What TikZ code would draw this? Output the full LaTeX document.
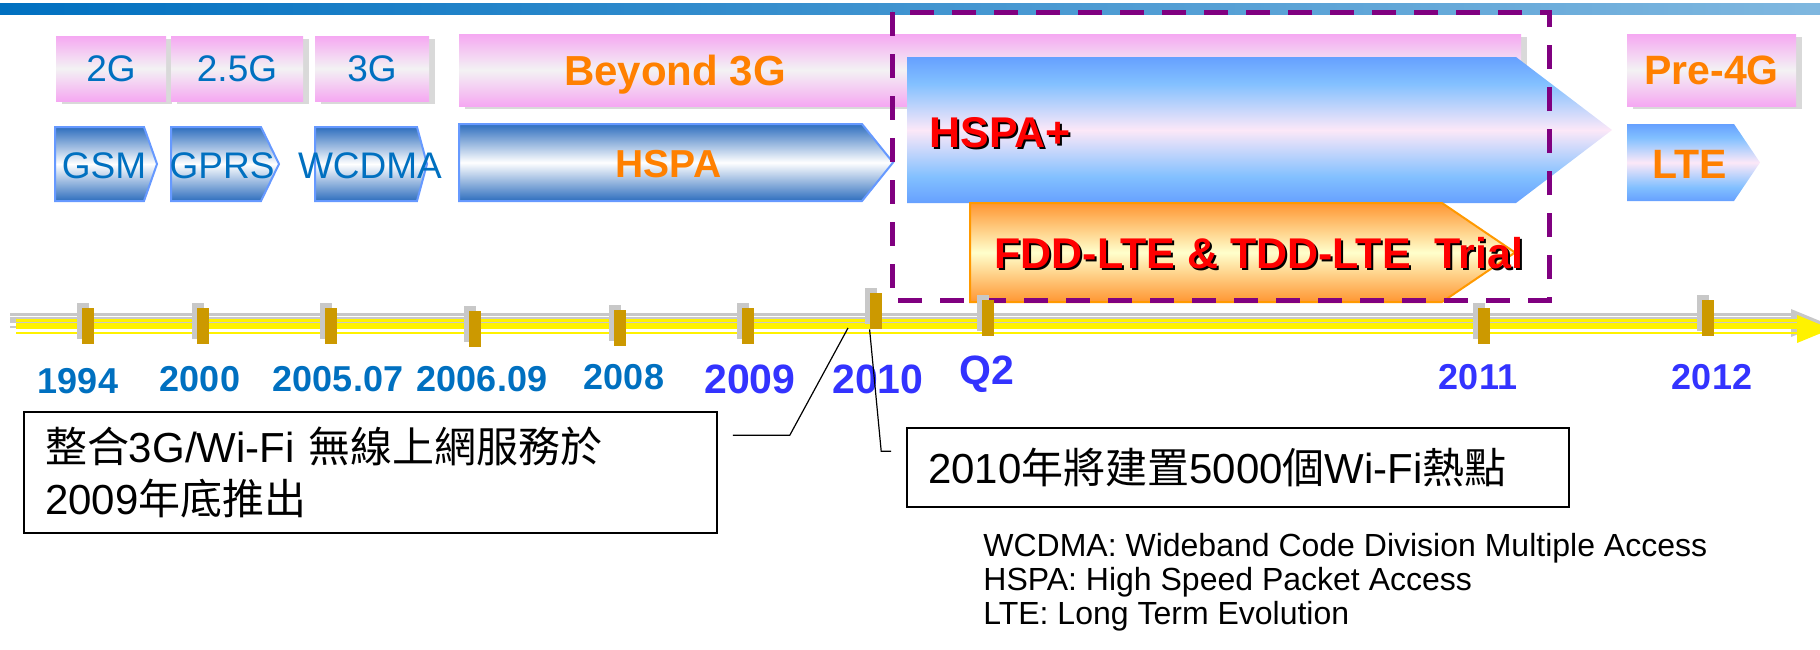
\documentclass[tikz,border=0pt]{standalone}
\usepackage{fontspec}
\setmainfont{Liberation Sans}
\newfontfamily\cjk{Noto Sans CJK TC}
\usetikzlibrary{shadows}

\definecolor{barblue}{RGB}{0,112,192}
\definecolor{genpink}{RGB}{245,168,242}
\definecolor{genmid}{RGB}{243,242,243}
\definecolor{chevdark}{RGB}{46,110,190}
\definecolor{chevedge}{RGB}{102,153,255}
\definecolor{plusblue}{RGB}{102,160,255}
\definecolor{pluslight}{RGB}{130,192,255}
\definecolor{pluspink}{RGB}{252,232,248}
\definecolor{trialorange}{RGB}{255,150,50}
\definecolor{trialcream}{RGB}{255,255,204}
\definecolor{trialedge}{RGB}{255,153,0}
\definecolor{lbltext}{RGB}{0,112,192}
\definecolor{hiorange}{RGB}{255,128,0}
\definecolor{yearnew}{RGB}{51,51,255}
\definecolor{tickgold}{RGB}{204,153,0}
\definecolor{tickgray}{RGB}{200,200,200}
\definecolor{framepurple}{RGB}{128,0,128}

\pgfdeclareverticalshading{plusshade}{100bp}{color(0bp)=(plusblue); color(25bp)=(plusblue);
  color(34bp)=(pluslight); color(50bp)=(pluspink); color(66bp)=(pluslight);
  color(75bp)=(plusblue); color(100bp)=(plusblue)}

\tikzset{
  genbox/.style={rectangle, inner sep=0pt, top color=genpink, bottom color=genpink, middle color=genmid,
    drop shadow={shadow xshift=2.75pt, shadow yshift=-1.5pt, fill=black!15, opacity=1}},
  genlbl/.style={font=\fontsize{18.5}{20}\selectfont, text=lbltext, inner sep=0pt},
  hilbl/.style={font=\fontsize{21}{22}\selectfont\bfseries, text=hiorange, inner sep=0pt},
  bluechev/.style={draw=chevedge, line width=1pt, top color=chevdark, bottom color=chevdark, middle color=white},
  pluschev/.style={shading=plusshade},
  trialchev/.style={draw=trialedge, line width=1pt, top color=trialorange, bottom color=trialorange, middle color=trialcream},
  redtxt/.style={font=\fontsize{21.5}{22}\selectfont\bfseries, text=red, inner sep=0pt},
  redshade/.style={redtxt, text=black},
  trialframe/.style={draw=framepurple, line width=2.5pt, dash pattern=on 12pt off 9pt},
  tick/.style={rectangle, fill=tickgold, inner sep=0pt, minimum width=6pt, minimum height=18pt,
    drop shadow={shadow xshift=-2.5pt, shadow yshift=2.5pt, fill=tickgray, opacity=1}},
  yearold/.style={font=\fontsize{18}{20}\selectfont\bfseries, text=lbltext, inner sep=0pt, anchor=base},
  yearnow/.style={font=\fontsize{20.5}{22}\selectfont\bfseries, text=yearnew, inner sep=0pt, anchor=base},
  yearnext/.style={font=\fontsize{18}{20}\selectfont\bfseries, text=yearnew, inner sep=0pt, anchor=base},
  note/.style={draw=black, line width=0.8pt, fill=white, inner sep=0pt, align=left, font=\fontsize{21}{26}\selectfont},
  leader/.style={draw=black, line width=0.6pt}
}

\begin{document}
\begin{tikzpicture}[x=0.5pt,y=0.5pt,yscale=-1]
\useasboundingbox (0,0) rectangle (1820,649);

%Top bar
\shade [left color=barblue, right color=barblue!50!white] (0,3) rectangle (1820,14);

%Shape: Generation boxes
\node [genbox, genlbl, minimum width=55pt, minimum height=32.5pt] (g2) at (111,68.5) {2G};
\node [genbox, genlbl, minimum width=66pt, minimum height=32.5pt] (g25) at (237,68.5) {2.5G};
\node [genbox, genlbl, minimum width=57pt, minimum height=32.5pt] (g3) at (372,68.5) {3G};
\node [genbox, minimum width=531pt, minimum height=36pt] (gb3) at (990,70) {};
\node [genbox, hilbl, font=\fontsize{20.5}{22}\selectfont\bfseries, minimum width=84.5pt, minimum height=36pt] (g4) at (1711.5,70) {Pre-4G};
% Text Node
\node [hilbl, anchor=base] (gb3text) at (675,85) {Beyond 3G};

%Shape: Blue chevrons
\draw [bluechev] (55,127) -- (144,127) -- (157,164) -- (144,201) -- (55,201) -- cycle ;
\draw [bluechev] (171,127) -- (261,127) -- (279,164) -- (261,201) -- (171,201) -- cycle ;
\draw [bluechev] (315,127) -- (417,127) -- (427,164) -- (417,201) -- (315,201) -- cycle ;
\draw [bluechev] (459,124) -- (862,124) -- (893,162.5) -- (862,201) -- (459,201) -- cycle ;
% Text Node
\node [genlbl, anchor=base] (gsm) at (104,178) {GSM};
\node [genlbl, anchor=base] (gprs) at (222,178) {GPRS};
\node [genlbl, anchor=base] (wcdma) at (370,178) {WCDMA};
\node [hilbl, font=\fontsize{19.5}{21}\selectfont\bfseries, anchor=base] (hspa) at (668.5,177) {HSPA};

%Shape: HSPA+ and LTE chevrons
\path [pluschev] (907,57) -- (1516,57) -- (1612,130) -- (1516,203) -- (907,203) -- cycle ;
\path [pluschev] (1627,124) -- (1734,124) -- (1760,162.5) -- (1734,201) -- (1627,201) -- cycle ;
%Shape: Trial chevron
\draw [trialchev] (970,203) -- (1442,203) -- (1515,252.5) -- (1442,302) -- (970,302) -- cycle ;
% Text Node
\node [redshade, anchor=base west] (hspapshade) at (931,149) {HSPA+};
\node [redtxt, anchor=base west] (hspap) at (929,147) {HSPA+};
\node [redshade, anchor=base west] (trialshade) at (996,270) {FDD-LTE \& TDD-LTE\ \ Trial};
\node [redtxt, anchor=base west] (trial) at (994,268) {FDD-LTE \& TDD-LTE\ \ Trial};
\node [hilbl, font=\fontsize{20.5}{22}\selectfont\bfseries, anchor=base] (lte) at (1689.5,178) {LTE};

%Timeline shadow
\begin{scope}[shift={(-6,-6)}, color=tickgray]
\draw [line width=1.25pt] (16,320.5) -- (1797,320.5) ;
\draw [line width=2.75pt] (16,326.2) -- (1797,326.2) ;
\draw [line width=1pt] (16,332.7) -- (1797,332.7) ;
\fill (1797,315) -- (1831,329) -- (1797,343) -- cycle ;
\end{scope}
%Timeline
\begin{scope}[color=yellow]
\draw [line width=1.25pt] (16,320.5) -- (1797,320.5) ;
\draw [line width=2.75pt] (16,326.2) -- (1797,326.2) ;
\draw [line width=1pt] (16,332.7) -- (1797,332.7) ;
\fill (1797,315) -- (1831,329) -- (1797,343) -- cycle ;
\end{scope}

%Shape: Rectangle (dashed frame)
\draw [trialframe] (892,12) rectangle (1549,300) ;

%Ticks
\node [tick] (t1994) at (88,326) {};
\node [tick] (t2000) at (203,326) {};
\node [tick] (t200507) at (331,326) {};
\node [tick] (t200609) at (475,329) {};
\node [tick] (t2008) at (620,328) {};
\node [tick] (t2009) at (748,326) {};
\node [tick] (t2010) at (876,311) {};
\node [tick] (tq2) at (988,318) {};
\node [tick] (t2011) at (1484,326) {};
\node [tick] (t2012) at (1708,318) {};

% Text Node
\node [yearold] (y1994) at (78,393) {1994};
\node [yearold] (y2000) at (200,391) {2000};
\node [yearold] (y200507) at (338,391) {2005.07};
\node [yearold] (y200609) at (482,391) {2006.09};
\node [yearold] (y2008) at (624,389) {2008};
\node [yearnow] (y2009) at (750,393) {2009};
\node [yearnow] (y2010) at (878,393) {2010};
\node [yearnow] (yq2) at (987,384) {Q2};
\node [yearnext] (y2011) at (1478,389) {2011};
\node [yearnext] (y2012) at (1712,389) {2012};

%Callouts
\node [note, minimum width=346.5pt, minimum height=60.5pt, text width=325.5pt] (note1) at (370.5,472.5)
  {{\cjk 整合}3G/Wi-Fi {\cjk 無線上網服務於}\\2009{\cjk 年底推出}};
\node [note, minimum width=331pt, minimum height=39.5pt, text width=310pt] (note2) at (1238,467.5)
  {2010{\cjk 年將建置}5000{\cjk 個}Wi-Fi{\cjk 熱點}};
\coordinate (endA) at (848,328);
\draw [leader] ([shift={(15,24)}]note1.north east) -- ++(57,0) -- (endA) ;
\draw [leader] ([shift={(-15,24)}]note2.north west) -- ++(-10,0) -- (t2010.south west) ;

% Text Node
\node [anchor=north west, inner sep=0pt, align=left, font=\fontsize{16}{17}\selectfont] (legend) at (983,533)
  {WCDMA: Wideband Code Division Multiple Access\\HSPA: High Speed Packet Access\\LTE: Long Term Evolution};

\end{tikzpicture}
\end{document}
